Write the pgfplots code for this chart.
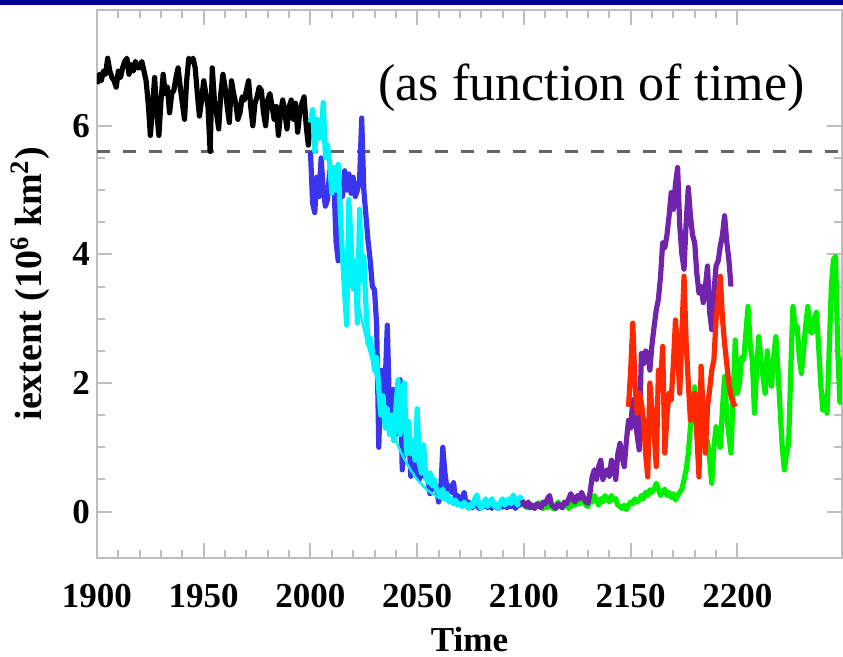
\documentclass[border=0pt]{standalone}
\usepackage{fontspec}
\setmainfont{Liberation Serif}
\usepackage{pgfplots}
\pgfplotsset{compat=1.18}
\definecolor{navybar}{RGB}{0,0,145}
\definecolor{sblue}{RGB}{58,52,238}
\definecolor{scyan}{RGB}{0,245,250}
\definecolor{spurple}{RGB}{112,36,172}
\definecolor{sred}{RGB}{255,40,0}
\definecolor{sgreen}{RGB}{0,240,0}
\definecolor{frameg}{RGB}{190,190,190}
\begin{document}
\begin{tikzpicture}
\useasboundingbox (0pt,0pt) rectangle (421.5pt,328.5pt);
\fill[navybar] (0pt,326pt) rectangle (421.5pt,328.5pt);
\begin{axis}[
  at={(48.5pt,49.65pt)}, anchor=south west,
  scale only axis, width=372.5pt, height=273.85pt,
  xmin=1900, xmax=2249, ymin=-0.716, ymax=7.80,
  xtick={1900,1950,2000,2050,2100,2150,2200},
  ytick={0,2,4,6},
  minor x tick num=4, minor y tick num=3,
  axis line style={frameg, line width=1pt},
  every tick/.style={frameg, line width=1pt},
  major tick length=7.5pt, minor tick length=4pt,
  tick align=inside,
  /pgf/number format/assume math mode=true,
  /pgf/number format/1000 sep={},
  ticklabel style={font=\bfseries\fontsize{17.5}{17.5}\selectfont},
  xticklabel style={anchor=base, yshift=-24.7pt},
  xlabel={Time},
  ylabel={iextent (10\textsuperscript{6} km\textsuperscript{2})},
  every axis x label/.style={at={(rel axis cs:0.5,0)}, anchor=base, yshift=-47pt, font=\bfseries\fontsize{17.5}{17.5}\selectfont},
  every axis y label/.style={at={(rel axis cs:0,0.5)}, xshift=-33.5pt, rotate=90, anchor=center, font=\bfseries\fontsize{19}{19}\selectfont},
  every axis plot/.append style={line width=2.6pt, line join=round},
]
\addplot[dash pattern=on 6.5pt off 6.5pt, line width=1.5pt, color={rgb,255:red,100;green,100;blue,100}] coordinates {(1900,5.6) (2249,5.6)};
% black
\addplot[black] coordinates {
(1900,6.65)(1901,6.8)(1902,6.7)(1903,6.85)(1904,6.8)(1905,7.05)(1906,6.85)(1907,6.75)(1908,6.7)(1909,6.6)
(1910,6.85)(1911,6.75)(1912,6.9)(1913,7.0)(1914,7.05)(1915,6.8)(1916,6.95)(1917,6.85)(1918,7.0)(1919,6.9)
(1920,6.9)(1921,7.0)(1922,6.85)(1923,6.7)(1924,6.35)(1925,5.85)(1926,6.3)(1927,6.75)(1928,6.2)(1929,5.85)
(1930,6.4)(1931,6.8)(1932,6.5)(1933,6.6)(1934,6.2)(1935,6.5)(1936,6.55)(1937,6.75)(1938,6.9)(1939,6.6)
(1940,6.35)(1941,6.1)(1942,6.7)(1943,7.05)(1944,7.0)(1945,7.05)(1946,6.9)(1947,6.5)(1948,6.15)(1949,6.4)
(1950,6.7)(1951,6.5)(1952,6.3)(1953,5.6)(1954,6.9)(1955,6.4)(1956,6.2)(1957,5.95)(1958,6.5)(1959,6.8)
(1960,6.6)(1961,6.3)(1962,6.05)(1963,6.7)(1964,6.5)(1965,6.35)(1966,6.1)(1967,6.2)(1968,6.45)(1969,6.4)
(1970,6.55)(1971,6.7)(1972,6.3)(1973,6.0)(1974,6.35)(1975,6.45)(1976,6.6)(1977,6.55)(1978,6.2)(1979,6.0)
(1980,6.4)(1981,6.5)(1982,6.3)(1983,6.1)(1984,6.3)(1985,5.85)(1986,6.2)(1987,6.4)(1988,6.2)(1989,5.95)
(1990,6.3)(1991,6.4)(1992,6.1)(1993,6.35)(1994,5.9)(1995,6.2)(1996,6.35)(1997,6.45)(1998,6.0)(1999,5.7)(2000,6.1)};
% blue
\addplot[sblue] coordinates {
(2000,5.6)(2001,4.8)(2002,4.65)(2003,5.2)(2004,4.9)(2005,5.5)(2006,5.0)(2007,4.75)(2008,4.85)(2009,5.3)
(2010,5.0)(2011,5.1)(2012,4.2)(2013,3.9)(2014,5.1)(2015,4.9)(2016,5.3)(2017,5.0)(2018,5.25)(2019,4.95)
(2020,5.2)(2021,4.9)(2022,5.0)(2023,5.15)(2024,6.12)(2025,5.0)(2026,4.6)(2027,4.2)(2028,3.9)(2029,3.5)
(2030,3.45)(2031,2.9)(2032,1.0)(2033,2.2)(2034,1.5)(2035,2.0)(2036,2.9)(2037,1.6)(2038,1.4)(2039,1.9)
(2040,1.2)(2041,1.9)(2042,2.05)(2043,0.65)(2044,1.1)(2045,0.9)(2046,1.3)(2047,0.55)(2048,1.0)(2049,0.7)
(2050,0.6)(2051,0.5)(2052,0.8)(2053,0.55)(2054,0.6)(2055,0.5)(2056,0.28)(2057,0.5)(2058,0.35)(2059,0.4)
(2060,0.15)(2061,0.3)(2062,1.0)(2063,0.6)(2064,0.35)(2065,0.4)(2066,0.3)(2067,0.45)(2068,0.2)(2069,0.25)
(2070,0.15)(2071,0.2)(2072,0.3)(2073,0.1)(2074,0.15)(2075,0.12)(2076,0.06)(2077,0.12)(2078,0.1)(2079,0.05)
(2080,0.1)(2081,0.08)(2082,0.14)(2083,0.06)(2084,0.1)(2085,0.05)(2086,0.12)(2087,0.08)(2088,0.05)(2089,0.1)
(2090,0.07)(2091,0.12)(2092,0.06)(2093,0.1)(2094,0.08)(2095,0.13)(2096,0.05)(2097,0.1)(2098,0.12)(2099,0.08)};
% cyan
\addplot[scyan] coordinates {
(2000,6.05)(2001,6.25)(2002,5.6)(2003,6.1)(2004,5.8)(2005,5.9)(2006,6.36)(2007,5.5)(2008,5.7)(2009,5.4)
(2010,4.95)(2011,5.35)(2012,5.0)(2013,5.4)(2014,4.6)(2015,4.0)(2016,3.4)(2017,2.9)(2018,4.85)(2019,4.2)
(2020,3.46)(2021,3.9)(2022,2.93)(2023,4.7)(2024,3.6)(2025,3.97)(2026,3.2)(2027,2.6)(2028,2.7)(2029,2.5)
(2030,2.2)(2031,2.4)(2032,1.9)(2033,1.5)(2034,1.8)(2035,1.3)(2036,1.6)(2037,1.2)(2038,1.5)(2039,1.1)
(2040,1.6)(2041,2.05)(2042,1.2)(2043,1.9)(2044,2.0)(2045,0.9)(2046,1.4)(2047,0.9)(2048,1.1)(2049,0.8)
(2050,1.6)(2051,0.75)(2052,0.6)(2053,1.04)(2054,0.55)(2055,0.45)(2056,0.6)(2057,0.4)(2058,0.5)(2059,0.35)
(2060,0.3)(2061,0.25)(2062,0.35)(2063,0.2)(2064,0.28)(2065,0.15)(2066,0.2)(2067,0.12)(2068,0.18)(2069,0.1)
(2070,0.12)(2071,0.08)(2072,0.15)(2073,0.1)(2074,0.05)(2075,0.12)(2076,0.08)(2077,0.2)(2078,0.26)(2079,0.1)
(2080,0.05)(2081,0.1)(2082,0.2)(2083,0.08)(2084,0.15)(2085,0.2)(2086,0.08)(2087,0.12)(2088,0.05)(2089,0.15)
(2090,0.2)(2091,0.1)(2092,0.14)(2093,0.2)(2094,0.12)(2095,0.26)(2096,0.18)(2097,0.1)(2098,0.2)(2099,0.25)};
\addplot[scyan, line width=1.2pt, smooth] coordinates {
(2022,3.3)(2026,2.7)(2030,2.2)(2034,1.7)(2038,1.3)(2042,0.95)(2046,0.7)(2050,0.5)(2055,0.33)(2060,0.22)(2066,0.14)(2072,0.1)};
% green
\addplot[sgreen] coordinates {
(2100,0.05)(2101,0.1)(2102,0.06)(2103,0.12)(2104,0.08)(2105,0.05)(2106,0.1)(2107,0.14)(2108,0.08)(2109,0.05)
(2110,0.1)(2111,0.06)(2112,0.12)(2113,0.08)(2114,0.04)(2115,0.1)(2116,0.15)(2117,0.08)(2118,0.06)(2119,0.12)
(2120,0.1)(2121,0.05)(2122,0.08)(2123,0.14)(2124,0.1)(2125,0.18)(2126,0.12)(2127,0.2)(2128,0.16)(2129,0.1)
(2130,0.08)(2131,0.2)(2132,0.15)(2133,0.25)(2134,0.18)(2135,0.1)(2136,0.2)(2137,0.15)(2138,0.25)(2139,0.2)
(2140,0.15)(2141,0.25)(2142,0.18)(2143,0.2)(2144,0.1)(2145,0.08)(2146,0.05)(2147,0.1)(2148,0.03)(2149,0.1)
(2150,0.15)(2151,0.12)(2152,0.2)(2153,0.15)(2154,0.18)(2155,0.25)(2156,0.2)(2157,0.3)(2158,0.25)(2159,0.34)
(2160,0.3)(2161,0.35)(2162,0.44)(2163,0.35)(2164,0.25)(2165,0.3)(2166,0.35)(2167,0.25)(2168,0.3)(2169,0.22)
(2170,0.28)(2171,0.18)(2172,0.25)(2173,0.3)(2174,0.35)(2175,0.5)(2176,0.65)(2177,0.9)(2178,1.32)(2179,1.6)
(2180,1.94)(2181,1.2)(2182,1.2)(2183,1.5)(2184,1.25)(2185,1.0)(2186,1.1)(2187,0.8)(2188,0.44)(2189,1.0)
(2190,1.32)(2191,1.1)(2192,1.0)(2193,1.6)(2194,2.1)(2195,1.5)(2196,1.2)(2197,0.91)(2198,1.8)(2199,2.67)
(2200,1.84)(2201,2.0)(2202,2.4)(2203,2.36)(2204,2.8)(2205,3.19)(2206,2.6)(2207,2.36)(2208,1.53)(2209,2.2)
(2210,2.72)(2211,2.36)(2212,2.1)(2213,1.84)(2214,2.5)(2215,2.1)(2216,1.95)(2217,2.4)(2218,2.72)(2219,2.2)
(2220,1.6)(2221,1.0)(2222,0.65)(2223,0.9)(2224,1.06)(2225,2.2)(2226,3.19)(2227,2.9)(2228,2.88)(2229,2.4)
(2230,2.15)(2231,2.5)(2232,2.9)(2233,3.19)(2234,2.8)(2235,2.78)(2236,3.0)(2237,3.1)(2238,2.6)(2239,2.0)
(2240,1.58)(2241,1.8)(2242,1.53)(2243,2.5)(2244,3.5)(2245,3.92)(2246,3.97)(2247,2.5)(2248,1.7)(2249,2.4)};
% purple
\addplot[spurple] coordinates {
(2099,0.18)(2100,0.12)(2101,0.08)(2102,0.15)(2103,0.06)(2104,0.1)(2105,0.05)(2106,0.12)(2107,0.1)(2108,0.06)
(2109,0.15)(2110,0.12)(2111,0.2)(2112,0.25)(2113,0.1)(2114,0.08)(2115,0.05)(2116,0.12)(2117,0.1)(2118,0.06)
(2119,0.15)(2120,0.12)(2121,0.2)(2122,0.28)(2123,0.18)(2124,0.15)(2125,0.25)(2126,0.2)(2127,0.3)(2128,0.22)
(2129,0.15)(2130,0.13)(2131,0.3)(2132,0.55)(2133,0.65)(2134,0.5)(2135,0.7)(2136,0.8)(2137,0.5)(2138,0.6)
(2139,0.65)(2140,0.55)(2141,0.8)(2142,0.7)(2143,0.5)(2144,0.9)(2145,1.06)(2146,0.85)(2147,0.7)(2148,1.1)
(2149,1.42)(2150,1.3)(2151,1.74)(2152,1.5)(2153,1.2)(2154,0.96)(2155,2.46)(2156,2.3)(2157,2.5)(2158,2.45)
(2159,2.2)(2160,2.6)(2161,2.88)(2162,3.14)(2163,3.3)(2164,3.66)(2165,4.18)(2166,4.1)(2167,4.3)(2168,4.6)
(2169,4.96)(2170,4.7)(2171,5.1)(2172,5.35)(2173,4.44)(2174,4.0)(2175,3.77)(2176,4.5)(2177,5.04)(2178,4.6)
(2179,4.3)(2180,4.18)(2181,3.7)(2182,3.4)(2183,3.5)(2184,3.25)(2185,3.5)(2186,3.82)(2187,3.1)(2188,2.83)
(2189,3.4)(2190,3.82)(2191,3.9)(2192,4.13)(2193,4.3)(2194,4.6)(2195,4.2)(2196,3.92)(2197,3.5)};
% red
\addplot[sred] coordinates {
(2149,1.63)(2150,2.2)(2151,2.93)(2152,2.0)(2153,1.53)(2154,1.84)(2155,1.7)(2156,1.43)(2157,0.9)(2158,0.54)
(2159,2.0)(2160,1.6)(2161,1.22)(2162,0.7)(2163,2.2)(2164,2.0)(2165,2.57)(2166,0.91)(2167,1.5)(2168,1.84)
(2169,1.74)(2170,2.3)(2171,2.98)(2172,2.5)(2173,1.84)(2174,2.8)(2175,3.66)(2176,2.62)(2177,2.0)(2178,1.42)
(2179,1.7)(2180,1.84)(2181,1.2)(2182,0.54)(2183,2.26)(2184,1.5)(2185,0.91)(2186,1.63)(2187,1.9)(2188,2.2)
(2189,2.36)(2190,2.98)(2191,3.3)(2192,3.66)(2193,3.0)(2194,2.62)(2195,2.3)(2196,2.0)(2197,1.8)(2198,1.7)(2199,1.63)};
\node[anchor=base west, inner sep=0pt, font=\fontsize{26}{26}\selectfont] at (axis cs:2031.7,6.40) {(as function of time)};
\end{axis}
\end{tikzpicture}
\end{document}
